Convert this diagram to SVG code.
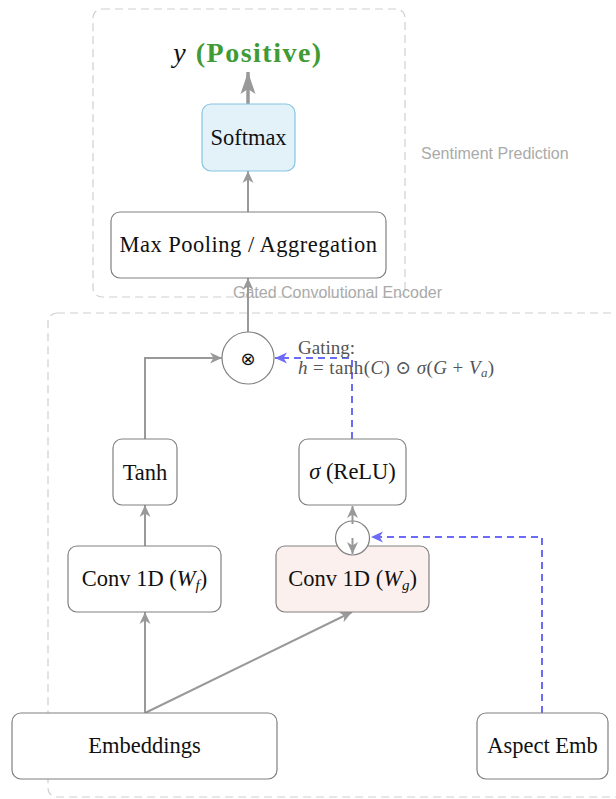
<svg xmlns="http://www.w3.org/2000/svg" width="616" height="799" viewBox="0 0 616 799">
<defs>
<marker id="ag" viewBox="0 0 14 12" refX="13" refY="6" markerWidth="14" markerHeight="12" markerUnits="userSpaceOnUse" orient="auto">
<path d="M1,0.5 L13,6 L1,11.5 L4.5,6 z" fill="#999"/>
</marker>
<marker id="agl" viewBox="0 0 24 16" refX="23" refY="8" markerWidth="24" markerHeight="16" markerUnits="userSpaceOnUse" orient="auto">
<path d="M1,0.5 L23,8 L1,15.5 L6,8 z" fill="#999"/>
</marker>
<marker id="ab" viewBox="0 0 14 12" refX="13" refY="6" markerWidth="14" markerHeight="12" markerUnits="userSpaceOnUse" orient="auto">
<path d="M1,0.5 L13,6 L1,11.5 L4.5,6 z" fill="#6b6bf7"/>
</marker>
</defs>
<style>
.cluster{fill:none;stroke:#cfcfcf;stroke-width:1.2;stroke-dasharray:8 5}
.clabel{font-family:"Liberation Sans","DejaVu Sans",sans-serif;font-size:16px;fill:#aaa}
.box{fill:#fff;stroke:#808080;stroke-width:1.2}
.lbl{font-family:"Liberation Serif","DejaVu Serif",serif;font-size:22.5px;fill:#111;text-anchor:middle}
.it{font-style:italic}
.edge{fill:none;stroke:#999;stroke-width:2}
.gate{fill:none;stroke:#6b6bf7;stroke-width:2;stroke-dasharray:7 5}
.note{font-family:"Liberation Serif","DejaVu Serif",serif;font-size:19px;fill:#555}
</style>

<g id="clusters">
<rect class="cluster" x="93" y="9" width="312" height="288" rx="9"/>
<text class="clabel" x="421" y="159">Sentiment Prediction</text>
<rect class="cluster" x="48" y="313" width="600" height="484" rx="9"/>
<text class="clabel" x="233" y="298">Gated Convolutional Encoder</text>
</g>

<g id="connectors">
<line class="edge" x1="248" y1="104" x2="248" y2="72" style="stroke-width:3.5" marker-end="url(#agl)"/>
<line class="edge" x1="248" y1="212" x2="248" y2="171" marker-end="url(#ag)"/>
<line class="edge" x1="248" y1="332" x2="248" y2="278" marker-end="url(#ag)"/>
<polyline class="edge" points="145,439 145,358 222,358" marker-end="url(#ag)"/>
<polyline class="gate" points="352,439 352,358 275,358" marker-end="url(#ab)"/>
<line class="edge" x1="145" y1="546" x2="145" y2="505" marker-end="url(#ag)"/>
<line class="edge" x1="145" y1="713" x2="145" y2="612" marker-end="url(#ag)"/>
<line class="edge" x1="145" y1="713" x2="352" y2="612" marker-end="url(#ag)"/>
<polyline class="gate" points="542,713 542,537 371,537" marker-end="url(#ab)"/>
</g>

<g id="title">
<text x="248" y="62" text-anchor="middle" style="font-family:'Liberation Serif','DejaVu Serif',serif;font-size:28px"><tspan class="it" fill="#111">y</tspan><tspan dx="10" fill="#3f9b35" font-weight="bold" letter-spacing="1.5">(Positive)</tspan></text>
</g>

<g id="softmax">
<rect x="202" y="104" width="93" height="67" rx="9" style="fill:#e3f1f9;stroke:#86c5df;stroke-width:1.2"/>
<text class="lbl" x="248.5" y="145">Softmax</text>
</g>

<g id="maxpool">
<rect class="box" x="111" y="212" width="275" height="66" rx="9"/>
<text class="lbl" x="248.5" y="252" letter-spacing="0.5">Max Pooling / Aggregation</text>
</g>

<g id="mult">
<circle cx="248" cy="358" r="26" style="fill:#fff;stroke:#808080;stroke-width:1.2"/>
<text x="248" y="365" text-anchor="middle" style="font-family:'DejaVu Sans',sans-serif;font-size:18px;fill:#111">⊗</text>
</g>

<g id="gating-note">
<text class="note" x="298" y="354">Gating:</text>
<text class="note" x="298" y="374" letter-spacing="0.4"><tspan class="it">h</tspan> = tanh(<tspan class="it">C</tspan>) ⊙ <tspan class="it">σ</tspan>(<tspan class="it">G</tspan> + <tspan class="it">V</tspan><tspan font-size="13" dy="3" class="it">a</tspan><tspan dy="-3">)</tspan></text>
</g>

<g id="tanh">
<rect class="box" x="113" y="439" width="64" height="66" rx="9"/>
<text class="lbl" x="145" y="480">Tanh</text>
</g>

<g id="sigma">
<rect class="box" x="299" y="439" width="107" height="66" rx="9"/>
<text class="lbl" x="352.5" y="479"><tspan class="it">σ</tspan> (ReLU)</text>
</g>

<g id="convf">
<rect class="box" x="68" y="546" width="153" height="66" rx="9"/>
<text class="lbl" x="144.5" y="586">Conv 1D (<tspan class="it">W</tspan><tspan class="it" font-size="15" dy="4">f</tspan><tspan dy="-4">)</tspan></text>
</g>

<g id="convg">
<rect x="276" y="546" width="153" height="66" rx="9" style="fill:#fcf0ef;stroke:#808080;stroke-width:1.2"/>
<text class="lbl" x="352.5" y="586">Conv 1D (<tspan class="it">W</tspan><tspan class="it" font-size="15" dy="4">g</tspan><tspan dy="-4">)</tspan></text>
</g>

<g id="combine">
<circle cx="352.5" cy="538" r="17" style="fill:#fff;stroke:#808080;stroke-width:1.2"/>
<line class="edge" x1="352.5" y1="524" x2="352.5" y2="506" marker-end="url(#ag)"/>
<line class="edge" x1="352.5" y1="538" x2="352.5" y2="554" marker-end="url(#ag)"/>
</g>

<g id="embeddings">
<rect class="box" x="12" y="713" width="265" height="66" rx="9"/>
<text class="lbl" x="144.5" y="753">Embeddings</text>
</g>

<g id="aspect">
<rect class="box" x="477" y="713" width="131" height="66" rx="9"/>
<text class="lbl" x="542.5" y="753">Aspect Emb</text>
</g>
</svg>
